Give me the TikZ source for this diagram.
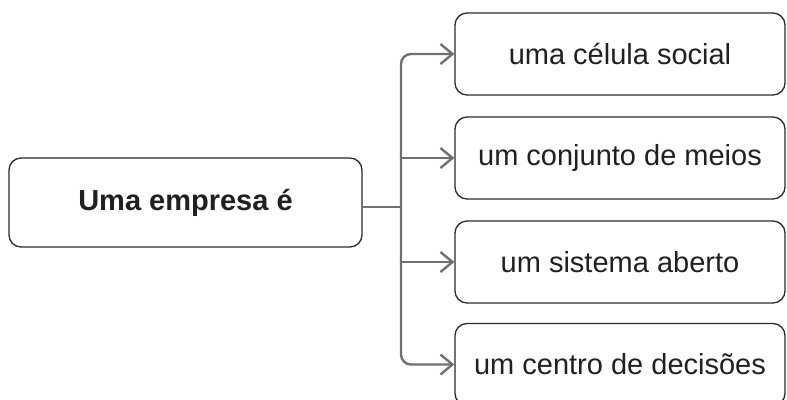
\documentclass[tikz,border=0pt]{standalone}
\usepackage{fontspec}
\setmainfont{Liberation Sans}
\usetikzlibrary{arrows.meta}
\definecolor{linegray}{HTML}{707072}
\definecolor{textdark}{HTML}{202020}
\definecolor{boxline}{HTML}{2A2A2A}
\begin{document}
\begin{tikzpicture}[x=1pt,y=-1pt,
  boxstyle/.style={draw=boxline, line width=1.3pt, rounded corners=12pt, inner sep=0pt,
    text=textdark, font=\fontsize{29}{34}\selectfont},
  leftbox/.style={boxstyle, minimum width=353pt, minimum height=89pt, font=\bfseries\fontsize{29}{34}\selectfont},
  rightbox/.style={boxstyle, minimum width=330pt, minimum height=82pt},
  conn/.style={draw=linegray, line width=2.4pt, line cap=round},
  tipped/.style={conn, -{Straight Barb[length=12pt,width=20pt]}}
]
\useasboundingbox (0,0) rectangle (787,399);
\clip (0,0) rectangle (787,399);
\node[leftbox] (left) at (185.5,202.5) {Uma empresa é};
\node[rightbox] (b1) at (620,54) {uma célula social};
\node[rightbox] (b2) at (620,158) {um conjunto de meios};
\node[rightbox] (b3) at (620,262) {um sistema aberto};
\node[rightbox] (b4) at (620,364.5) {um centro de decisões};
\coordinate (j) at (401,207);
\draw[conn] (left.east |- j) -- (j);
\draw[tipped, rounded corners=10pt] (j) |- (b1.west);
\draw[tipped, rounded corners=10pt] (j) |- (b4.west);
\draw[tipped] (j |- b2.west) -- (b2.west);
\draw[tipped] (j |- b3.west) -- (b3.west);
\end{tikzpicture}
\end{document}
